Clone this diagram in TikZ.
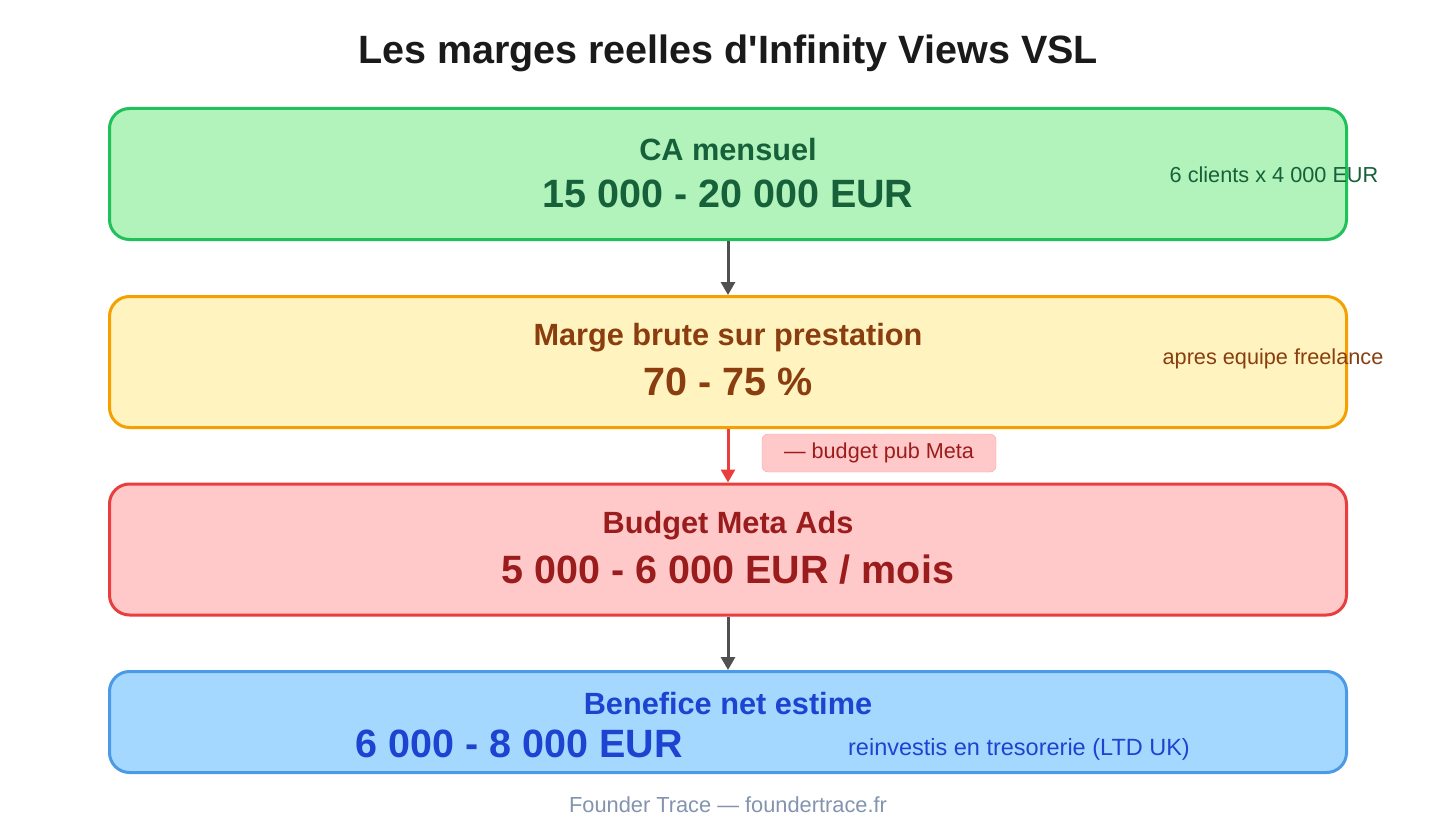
\documentclass[tikz,border=0pt]{standalone}
\usepackage{fontspec}
\setmainfont{Liberation Sans}[Ligatures=TeXOff]
\usetikzlibrary{arrows.meta}

\definecolor{greenfill}{HTML}{B2F2BB}
\definecolor{greenline}{HTML}{20C05A}
\definecolor{greentext}{HTML}{17613A}
\definecolor{orangefill}{HTML}{FFF3BF}
\definecolor{orangeline}{HTML}{F59F00}
\definecolor{orangetext}{HTML}{8A3D0E}
\definecolor{redfill}{HTML}{FFC9C9}
\definecolor{redline}{HTML}{E83E3E}
\definecolor{redtext}{HTML}{9B1C1C}
\definecolor{bluefill}{HTML}{A5D8FF}
\definecolor{blueline}{HTML}{4A9AE8}
\definecolor{bluetext}{HTML}{1D44D0}
\definecolor{arrowgray}{HTML}{505050}
\definecolor{footgray}{HTML}{8494AE}

\newcommand{\fsz}[1]{\fontsize{#1}{#1}\selectfont}

\tikzset{
	stagebox/.style={draw,line width=3pt,rounded corners=20pt,minimum width=1237pt,inner sep=0pt},
	flowarrow/.style={line width=3pt,->,>={Triangle[width=14pt,length=13pt]}}
}

\begin{document}
\begin{tikzpicture}[x=1pt,y=-1pt]
	\useasboundingbox[fill=white] (0,0) rectangle (1456,837);
	
	\node (title) at (728,53){\fsz{39.5}\bfseries\color[HTML]{1A1A1A}Les marges reelles d'Infinity Views VSL};
	
	% boxes
	\node[stagebox,draw=greenline,fill=greenfill,minimum height=131pt] (ca) at (728,174){};
	\node[stagebox,draw=orangeline,fill=orangefill,minimum height=131pt] (marge) at (728,362){};
	\node[stagebox,draw=redline,fill=redfill,minimum height=131pt] (meta) at (728,549.5){};
	\node[stagebox,draw=blueline,fill=bluefill,minimum height=101pt] (net) at (728,722){};
	
	\draw[flowarrow,arrowgray] (ca.south) -- (marge.north);
	\draw[flowarrow,redline] (marge.south) -- (meta.north);
	\draw[flowarrow,arrowgray] (meta.south) -- (net.north);
	
	% texts
	\node[text=greentext] (catitle) at (728,150){\fsz{30.7}\bfseries CA mensuel};
	\node[text=greentext] (caval) at (728,194){\fsz{39.5}\bfseries 15 000 - 20 000 EUR};
	\node[text=greentext] (canote) at (1274,175){\fsz{21.7}6 clients x 4 000 EUR};
	
	\node[text=orangetext] (margetitle) at (728,338){\fsz{30.7}\bfseries Marge brute sur prestation};
	\node[text=orangetext] (margeval) at (728,382){\fsz{39.5}\bfseries 70 - 75 \%};
	\node[text=orangetext] (margenote) at (1273,359){\fsz{21.7}apres equipe freelance};
	
	\node[fill=redfill,draw=redfill!80!red,rounded corners=6pt,minimum width=234pt,minimum height=38pt,text=redtext] (pub) at (879,453){\fsz{21.6}— budget pub Meta};
	
	\node[text=redtext] (metatitle) at (728,526){\fsz{30.7}\bfseries Budget Meta Ads};
	\node[text=redtext] (metaval) at (728,570){\fsz{39.5}\bfseries 5 000 - 6 000 EUR / mois};
	
	\node[text=bluetext] (nettitle) at (728,704){\fsz{30.7}\bfseries Benefice net estime};
	\node[text=bluetext] (netval) at (519,744){\fsz{39.5}\bfseries 6 000 - 8 000 EUR};
	\node[text=bluetext] (netnote) at (1019,749){\fsz{23.5}reinvestis en tresorerie (LTD UK)};
	
	\node[text=footgray] (footer) at (728,805){\fsz{21.8}Founder Trace — foundertrace.fr};
\end{tikzpicture}
\end{document}
